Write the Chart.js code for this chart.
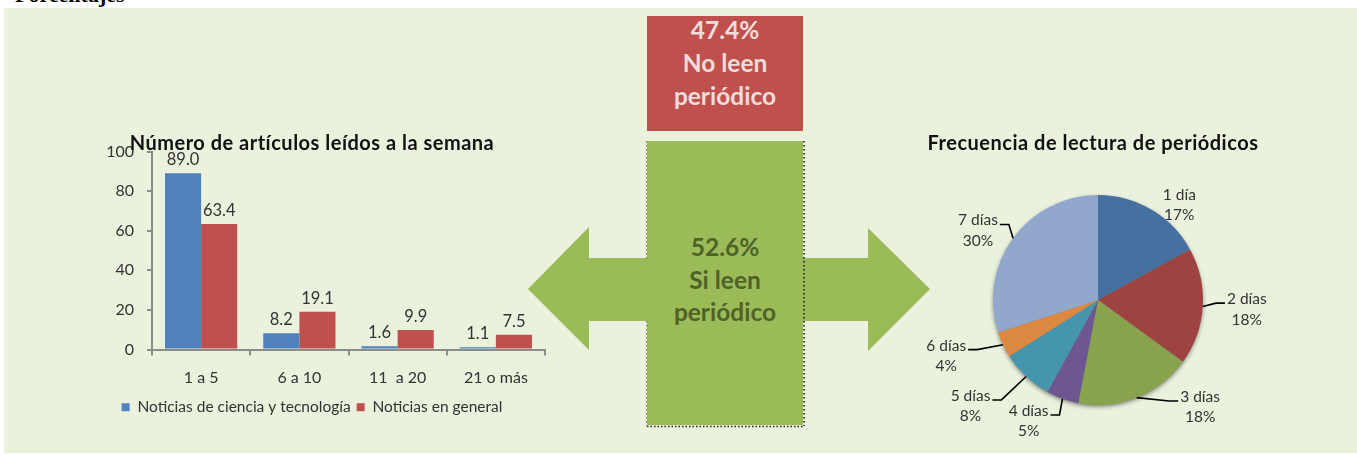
<!DOCTYPE html>
<html>
<head>
<meta charset="utf-8">
<script src="https://cdn.jsdelivr.net/npm/chart.js@4.4.1/dist/chart.umd.min.js"></script>
<style>
  html, body { margin:0; padding:0; background:#ffffff; width:1357px; height:455px; overflow:hidden; }
  #page { position:relative; width:1357px; height:455px; }
  #panel { position:absolute; left:4px; top:8px; width:1353px; height:445px; background:#EAF1DD; }
  #topword { position:absolute; left:15px; top:-16px; font-family:"Liberation Serif", serif; font-weight:bold; font-size:22px; line-height:22px; color:#000; }
  .ttl { position:absolute; font-family:Lato, sans-serif; font-weight:bold; font-size:20px; letter-spacing:0.5px; color:#111; white-space:nowrap; transform:translateX(-50%); line-height:22px; }
  #barWrap { position:absolute; left:79px; top:129px; width:481px; height:304px; }
  #pieWrap { position:absolute; left:900px; top:150px; width:396px; height:300px; }
  #shapes { position:absolute; left:0; top:0; }
  .boxtxt { position:absolute; left:647px; width:156px; text-align:center; font-family:Lato, sans-serif; font-weight:bold; font-size:24.5px; line-height:33px; }
</style>
</head>
<body>
<div id="page">
  <div id="panel"></div>
  <div id="topword">Porcentajes</div>
  <svg id="shapes" width="1357" height="455">
    <polygon points="528,289 589,227 589,258 868,258 868,228 930,289 868,351 868,321 589,321 589,350" fill="#9BBB59"/>
    <rect x="647" y="16" width="156" height="115" fill="#C0504D"/>
    <rect x="647" y="141" width="156" height="284" fill="#9BBB59"/>
    <line x1="646.5" y1="141" x2="646.5" y2="258" stroke="#777" stroke-width="1" stroke-dasharray="1.5,2.5"/>
    <line x1="646.5" y1="321" x2="646.5" y2="426" stroke="#777" stroke-width="1" stroke-dasharray="1.5,2.5"/>
    <line x1="804" y1="141" x2="804" y2="426" stroke="#111" stroke-width="1.5" stroke-dasharray="1.5,2.5"/>
    <line x1="647" y1="426.5" x2="804" y2="426.5" stroke="#222" stroke-width="1.5" stroke-dasharray="1.5,2"/>
  </svg>
  <div class="boxtxt" style="top:13px;color:#F2DCDB;">47.4%<br>No leen<br>periódico</div>
  <div class="boxtxt" style="top:231px;color:#4F6228;line-height:32.5px;">52.6%<br>Si leen<br>periódico</div>
  <div id="barWrap"><canvas id="bar"></canvas></div>
  <div id="pieWrap"><canvas id="pie"></canvas></div>
  <div class="ttl" style="left:312px;top:131px;">Número de artículos leídos a la semana</div>
  <div class="ttl" style="left:1093px;top:131px;">Frecuencia de lectura de periódicos</div>
</div>
<script>
// ---- Data ----
const categories = ['1 a 5', '6 a 10', '11  a 20', '21 o más'];
const seriesNames = ['Noticias de ciencia y tecnología', 'Noticias en general'];
const cienciaValues = [89.0, 8.2, 1.6, 1.1];
const generalValues = [63.4, 19.1, 9.9, 7.5];
const yTickValues = [0, 20, 40, 60, 80, 100];

const pieLabels = ['1 día', '2 días', '3 días', '4 días', '5 días', '6 días', '7 días'];
const pieValues = [17, 18, 18, 5, 8, 4, 30];

// ---- Styles ----
const FONT = 'Lato, sans-serif';
const AXIS = '#8C8C8C';
const TXT = '#333333';

const barValueLabels = {
  id: 'barValueLabels',
  afterDatasetsDraw(chart) {
    const ctx = chart.ctx;
    ctx.save();
    ctx.font = '16.5px ' + FONT;
    ctx.fillStyle = TXT;
    ctx.textAlign = 'center';
    ctx.textBaseline = 'bottom';
    chart.data.datasets.forEach((ds, i) => {
      chart.getDatasetMeta(i).data.forEach((bar, j) => {
        ctx.fillText(ds.data[j].toFixed(1), bar.x, bar.y - 5);
      });
    });
    ctx.restore();
  }
};

new Chart(document.getElementById('bar'), {
  type: 'bar',
  data: {
    labels: categories,
    datasets: [
      { label: seriesNames[0], data: cienciaValues, backgroundColor: '#4F81BD', borderWidth: 0 },
      { label: seriesNames[1], data: generalValues, backgroundColor: '#C0504D', borderWidth: 0 }
    ]
  },
  options: {
    responsive: true,
    maintainAspectRatio: false,
    animation: false,
    layout: { padding: { top: 10, right: 15, bottom: 8, left: 0 } },
    datasets: { bar: { categoryPercentage: 0.735, barPercentage: 1.0 } },
    scales: {
      x: {
        afterFit(scale) { scale.height = 44; },
        grid: { display: true, drawOnChartArea: false, drawTicks: true, tickLength: 6, color: AXIS, lineWidth: 2, offset: true },
        border: { display: true, color: AXIS, width: 2 },
        ticks: { color: TXT, font: { family: FONT, size: 16 }, padding: 13 }
      },
      y: {
        min: 0, max: 100,
        afterFit(scale) { scale.width = 73; },
        afterBuildTicks(scale) { scale.ticks = yTickValues.map(v => ({ value: v })); },
        grid: { display: true, drawOnChartArea: false, drawTicks: true, tickLength: 5, color: AXIS, lineWidth: 2 },
        border: { display: true, color: AXIS, width: 2 },
        ticks: { color: TXT, font: { family: FONT, size: 16 }, padding: 13 }
      }
    },
    plugins: {
      legend: {
        position: 'bottom',
        labels: { boxWidth: 8, boxHeight: 8, color: TXT, font: { family: FONT, size: 15.5, lineHeight: 1.0 }, padding: 6 }
      },
      title: { display: false },
      tooltip: { enabled: false }
    }
  },
  plugins: [barValueLabels]
});

// soft shadow under the pie
const pieShadow = {
  id: 'pieShadow',
  beforeDatasetsDraw(chart) {
    const arc = chart.getDatasetMeta(0).data[0];
    if (!arc) return;
    const p = arc.getProps(['x', 'y', 'outerRadius'], true);
    const ctx = chart.ctx;
    ctx.save();
    ctx.shadowColor = 'rgba(0,0,0,0.6)';
    ctx.shadowBlur = 5;
    ctx.shadowOffsetX = 0;
    ctx.shadowOffsetY = 2;
    ctx.beginPath();
    ctx.arc(p.x, p.y, p.outerRadius - 1, 0, Math.PI * 2);
    ctx.fillStyle = '#888';
    ctx.fill();
    ctx.restore();
  }
};

// Pie labels with leader lines
const pieLabelPlugin = {
  id: 'pieLabelPlugin',
  afterDatasetsDraw(chart, args, opts) {
    const ctx = chart.ctx;
    const meta = chart.getDatasetMeta(0);
    const total = chart.data.datasets[0].data.reduce((a, b) => a + b, 0);
    ctx.save();
    ctx.font = '15.5px ' + FONT;
    ctx.fillStyle = TXT;
    ctx.textAlign = 'center';
    ctx.textBaseline = 'middle';
    const lh = 20.5;
    meta.data.forEach((arc, i) => {
      const p = arc.getProps(['x', 'y', 'startAngle', 'endAngle', 'outerRadius'], true);
      const mid = (p.startAngle + p.endAngle) / 2;
      const la = mid + opts.angleShift[i] * Math.PI / 180;
      const d = p.outerRadius * opts.dist[i];
      const lx = p.x + Math.cos(la) * d;
      const ly = p.y + Math.sin(la) * d;
      const name = chart.data.labels[i];
      const pct = Math.round(chart.data.datasets[0].data[i] / total * 100) + '%';
      ctx.fillText(name, lx, ly - lh / 2);
      ctx.fillText(pct, lx, ly + lh / 2);
      if (opts.leader[i]) {
        const w = ctx.measureText(name).width;
        const left = lx < p.x;
        const ex = left ? lx + w / 2 + 2 : lx - w / 2 - 2;
        const ey = ly - lh / 2 + 4;
        const sx = p.x + Math.cos(mid) * p.outerRadius;
        const sy = p.y + Math.sin(mid) * p.outerRadius;
        const bx = left ? ex + 9 : ex - 9;
        ctx.beginPath();
        ctx.strokeStyle = '#000';
        ctx.lineWidth = 1.6;
        ctx.moveTo(sx, sy);
        ctx.lineTo(bx, ey);
        ctx.lineTo(ex, ey);
        ctx.stroke();
      }
    });
    ctx.restore();
  }
};

new Chart(document.getElementById('pie'), {
  type: 'pie',
  data: {
    labels: pieLabels,
    datasets: [{
      data: pieValues,
      backgroundColor: ['#46709F', '#9E4341', '#88A24E', '#6E5690', '#4596AD', '#DD8840', '#92A7CC'],
      borderWidth: 0
    }]
  },
  options: {
    responsive: true,
    maintainAspectRatio: false,
    animation: false,
    layout: { padding: { top: 45, bottom: 45, left: 93, right: 93 } },
    plugins: {
      legend: { display: false },
      title: { display: false },
      tooltip: { enabled: false },
      pieLabelPlugin: {
        angleShift: [10, 0, -22, 10, 7, 5, -6],
        dist: [1.19, 1.42, 1.41, 1.33, 1.58, 1.54, 1.32],
        leader: [false, true, true, true, true, true, true]
      }
    }
  },
  plugins: [pieShadow, pieLabelPlugin]
});
</script>
</body>
</html>
